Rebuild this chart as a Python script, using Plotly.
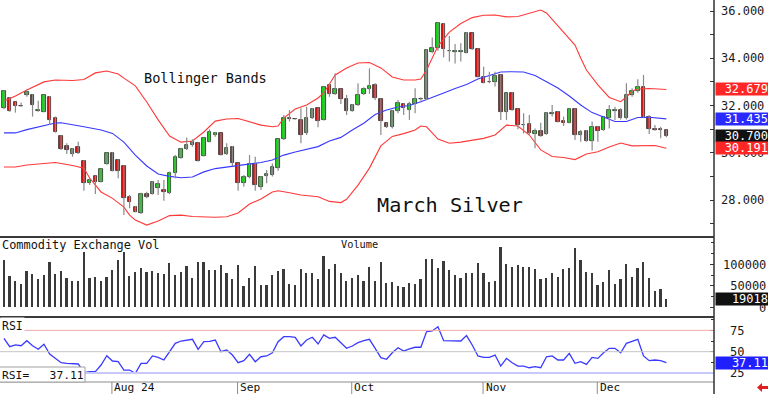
import plotly.graph_objects as go
import pandas as pd

# ---------------- data ----------------
holidays = ["2024-09-02", "2024-11-28"]
dates = [d for d in pd.bdate_range("2024-07-05", "2024-12-18") if d.strftime("%Y-%m-%d") not in holidays]

open_ = [31.88, 32.30, 32.13, 31.99, 32.44, 32.44, 31.77, 31.74, 32.37, 31.49,
         30.71, 30.30, 29.95, 30.26, 29.66, 28.73, 29.02, 28.78, 29.52, 30.00,
         29.69, 29.44, 28.11, 27.72, 27.44, 28.24, 28.25, 28.49, 28.42, 28.28,
         29.13, 29.78, 30.14, 30.33, 30.40, 29.87, 30.47, 30.75, 30.82, 29.95,
         30.26, 29.55, 28.73, 28.99, 29.52, 28.56, 29.03, 29.06, 29.37, 30.57,
         31.49, 31.44, 31.39, 30.82, 31.46, 31.88, 31.39, 32.87, 32.49, 32.68,
         32.26, 31.78, 32.02, 32.49, 32.68, 32.87, 32.28, 31.25, 31.08, 31.77,
         32.06, 31.81, 32.06, 32.29, 32.28, 34.28, 34.42, 35.45, 34.32, 34.26,
         34.26, 34.24, 35.05, 34.38, 33.22, 32.98, 33.01, 33.29, 31.74, 32.54,
         31.84, 31.16, 31.22, 30.79, 30.93, 30.79, 31.63, 31.74, 31.34, 31.27,
         31.84, 30.75, 30.93, 30.51, 31.10, 30.96, 31.46, 31.75, 31.81, 31.46,
         32.44, 32.61, 32.77, 31.53, 31.01, 31.01, 30.96]
high = [32.66, 32.35, 32.16, 32.13, 32.68, 32.47, 32.20, 32.47, 32.40, 31.53,
        30.74, 30.40, 30.19, 30.47, 29.69, 28.92, 29.04, 29.34, 30.01, 30.03,
        29.72, 29.47, 28.21, 27.75, 28.31, 28.35, 28.80, 28.85, 28.85, 29.20,
        29.90, 30.19, 30.65, 30.57, 30.43, 30.68, 30.99, 30.88, 30.85, 30.40,
        30.29, 29.58, 29.06, 29.90, 29.83, 29.02, 29.27, 29.55, 30.60, 31.60,
        31.81, 31.46, 31.88, 31.95, 31.88, 31.91, 32.83, 32.94, 33.36, 32.71,
        32.44, 32.06, 32.94, 32.77, 33.57, 32.94, 32.30, 31.27, 31.81, 32.23,
        32.09, 32.16, 32.73, 32.35, 34.38, 34.88, 35.53, 35.48, 34.94, 34.60,
        34.63, 35.11, 35.08, 34.41, 33.64, 33.43, 33.43, 33.32, 32.54, 32.57,
        31.87, 31.67, 31.60, 31.03, 31.27, 31.72, 32.02, 31.77, 31.53, 31.88,
        31.87, 30.96, 30.96, 31.32, 31.13, 31.53, 32.02, 31.95, 31.88, 32.94,
        32.73, 33.11, 33.29, 31.60, 31.17, 31.10, 30.98]
low = [31.84, 31.74, 31.70, 31.94, 32.37, 31.53, 31.74, 31.71, 31.17, 30.86,
       30.12, 29.95, 29.83, 29.95, 28.39, 28.63, 28.25, 28.75, 29.49, 29.21,
       28.92, 27.37, 27.65, 27.48, 27.41, 28.07, 28.23, 28.21, 27.97, 28.25,
       28.92, 29.75, 30.12, 30.26, 29.63, 29.84, 30.44, 30.68, 29.88, 29.91,
       29.44, 28.39, 28.56, 28.92, 28.39, 28.42, 28.71, 28.99, 29.24, 30.54,
       31.32, 31.40, 30.40, 30.75, 31.43, 31.08, 31.36, 32.37, 32.44, 32.06,
       31.60, 31.74, 31.98, 32.44, 32.49, 32.23, 30.75, 31.05, 31.03, 31.67,
       31.60, 31.39, 31.67, 32.20, 32.23, 34.21, 34.32, 34.04, 33.86, 33.78,
       33.86, 34.21, 34.35, 33.19, 32.94, 32.94, 32.80, 31.39, 31.39, 31.78,
       30.99, 30.82, 30.75, 30.19, 30.68, 30.76, 31.53, 31.29, 31.13, 31.25,
       30.54, 30.47, 30.47, 30.09, 30.47, 30.93, 31.03, 31.39, 31.41, 31.41,
       32.37, 32.54, 31.46, 30.79, 30.93, 30.61, 30.66]
close = [32.61, 31.78, 31.98, 31.96, 32.59, 32.02, 31.80, 32.44, 31.39, 30.89,
         30.14, 30.12, 30.14, 29.98, 28.73, 28.85, 28.78, 29.31, 29.98, 29.24,
         29.24, 28.07, 27.90, 27.51, 28.25, 28.14, 28.78, 28.66, 28.35, 29.13,
         29.83, 30.16, 30.33, 30.47, 29.66, 30.61, 30.89, 30.82, 29.91, 30.19,
         29.55, 28.73, 28.96, 29.52, 28.63, 28.99, 29.10, 29.38, 30.57, 31.46,
         31.43, 31.41, 30.75, 31.46, 31.85, 31.36, 32.77, 32.49, 32.68, 32.26,
         31.78, 32.02, 32.44, 32.68, 32.83, 32.33, 31.36, 31.08, 31.77, 32.12,
         31.88, 32.06, 32.26, 32.26, 34.35, 34.42, 35.51, 34.38, 34.29, 34.29,
         34.29, 35.08, 34.38, 33.22, 32.97, 33.01, 33.25, 31.74, 32.52, 31.81,
         31.17, 31.19, 30.82, 30.93, 30.71, 31.70, 31.70, 31.32, 31.27, 31.84,
         30.75, 30.89, 30.51, 31.08, 30.93, 31.50, 31.81, 31.80, 31.46, 32.44,
         32.61, 32.77, 31.50, 30.99, 30.98, 30.98, 30.70]

volume = [110000, 73700, 62000, 54300, 84500, 76700, 65100, 75200, 104700, 76700,
          84500, 67400, 61200, 61200, 129500, 69000, 71300, 62000, 69800, 86800,
          110000, 129500, 72900, 81400, 90700, 83000, 84500, 79100, 77500, 103900,
          75200, 81400, 96100, 67400, 106200, 104700, 86800, 86800, 98400, 80600,
          65100, 98400, 50400, 69000, 96000, 51900, 51900, 75200, 85300, 88400,
          54300, 51900, 89100, 80600, 79100, 65900, 120200, 89100, 100000, 79100,
          61200, 67400, 75200, 61200, 93000, 61200, 104700, 57400, 59700, 49600,
          48100, 55800, 53500, 65100, 111600, 111600, 92300, 107800, 86800, 75200,
          67400, 80600, 80600, 102300, 79100, 59700, 61200, 139500, 100000, 94600,
          98400, 94600, 93000, 89100, 65100, 67400, 79100, 71300, 88400, 92300,
          137200, 110000, 83000, 79100, 51900, 58100, 86800, 54300, 65900, 100800,
          71300, 90700, 104700, 67400, 37900, 41900, 19018]

rsi = [65.7, 55.9, 57.9, 57.0, 62.9, 57.0, 52.8, 58.7, 47.3, 42.2,
       37.1, 36.4, 36.4, 35.6, 25.4, 26.6, 26.6, 34.4, 45.3, 39.1,
       38.3, 28.5, 28.5, 24.7, 36.4, 36.4, 45.0, 43.4, 40.3, 50.0,
       59.8, 62.5, 63.7, 64.5, 52.8, 61.7, 62.1, 63.7, 50.0, 52.0,
       46.1, 37.1, 39.5, 46.9, 38.3, 44.1, 45.0, 48.8, 61.7, 67.6,
       67.6, 66.9, 56.7, 63.7, 66.9, 59.0, 69.6, 65.7, 66.9, 60.6,
       54.0, 56.7, 60.6, 62.9, 64.5, 54.0, 43.0, 41.1, 48.8, 54.7,
       50.8, 53.2, 55.2, 55.2, 73.4, 74.3, 79.3, 62.9, 62.9, 62.9,
       62.5, 68.8, 57.9, 45.0, 43.4, 43.4, 46.1, 33.2, 42.2, 37.1,
       33.2, 33.2, 31.2, 32.4, 31.2, 44.1, 45.0, 40.3, 40.3, 48.1,
       36.4, 38.3, 35.2, 43.4, 42.2, 48.8, 54.0, 54.0, 48.8, 59.8,
       61.7, 64.5, 45.0, 39.5, 40.3, 39.5, 37.11]

# Bollinger bands at sample bars
upper_idx = [0, 2, 4, 7, 9, 12, 14, 16, 18, 20, 21, 23, 25, 27, 29, 31, 33, 35, 37, 39,
             41, 43, 45, 47, 48, 49, 51, 53, 55, 56, 57, 58, 60, 62, 64, 66, 68, 70, 72, 73,
             74, 75, 76, 78, 80, 82, 84, 86, 88, 90, 92, 94, 95, 97, 99, 100, 101, 102, 104, 106,
             108, 109, 110, 111, 113, 116]
upper_val = [32.19, 32.40, 32.66, 33.00, 33.08, 33.06, 33.10, 33.38, 33.46, 33.33,
             33.16, 32.83, 32.15, 31.39, 30.71, 30.45, 30.50, 30.88, 31.34, 31.43,
             31.45, 31.30, 31.17, 31.10, 31.13, 31.47, 31.85, 32.02, 32.32, 32.53,
             32.91, 33.29, 33.59, 33.80, 33.82, 33.59, 33.21, 33.08, 33.08, 33.12,
             33.50, 34.01, 34.52, 35.11, 35.47, 35.72, 35.82, 35.83, 35.75, 35.77,
             35.89, 36.04, 35.92, 35.37, 34.86, 34.56, 34.01, 33.50, 32.87, 32.34,
             32.16, 32.36, 32.61, 32.70, 32.72, 32.679]
mid_idx = [0, 2, 4, 6, 8, 9, 10, 12, 14, 17, 19, 21, 23, 25, 27, 29, 31, 33, 35, 37,
           39, 41, 43, 45, 47, 49, 51, 53, 55, 57, 59, 61, 63, 65, 67, 69, 71, 73, 75, 77,
           79, 81, 83, 85, 87, 89, 91, 93, 95, 97, 99, 101, 103, 105, 107, 109, 111, 113, 116]
mid_val = [30.84, 30.84, 30.98, 31.10, 31.20, 31.26, 31.27, 31.17, 31.10, 30.96,
           30.82, 30.45, 29.90, 29.44, 29.10, 29.00, 28.94, 28.97, 29.19, 29.33,
           29.40, 29.44, 29.52, 29.59, 29.69, 29.90, 30.03, 30.16, 30.26, 30.50,
           30.65, 30.96, 31.25, 31.62, 31.81, 31.94, 32.00, 32.16, 32.36, 32.53,
           32.72, 32.89, 33.12, 33.27, 33.42, 33.43, 33.42, 33.27, 33.02, 32.74,
           32.40, 32.02, 31.70, 31.51, 31.32, 31.32, 31.49, 31.50, 31.435]
lower_idx = [0, 2, 4, 6, 9, 12, 14, 15, 17, 19, 21, 22, 23, 25, 27, 29, 31, 33, 35, 37,
             39, 41, 43, 45, 47, 48, 50, 52, 55, 57, 59, 60, 62, 64, 66, 68, 70, 72, 73, 74,
             76, 78, 80, 82, 84, 86, 87, 88, 90, 92, 94, 96, 98, 100, 102, 104, 106, 108, 110, 112,
             114, 116]
lower_val = [29.40, 29.40, 29.48, 29.52, 29.59, 29.46, 29.34, 28.93, 28.34, 28.07,
             27.70, 27.36, 27.15, 26.94, 27.11, 27.34, 27.36, 27.30, 27.27, 27.27,
             27.29, 27.45, 27.83, 28.04, 28.34, 28.39, 28.31, 28.21, 28.14, 27.94,
             27.89, 28.03, 28.63, 29.35, 30.29, 30.69, 30.81, 30.96, 31.13, 31.10,
             30.58, 30.40, 30.45, 30.54, 30.61, 30.75, 30.96, 31.17, 31.13, 30.75,
             30.12, 29.84, 29.80, 29.71, 29.95, 30.04, 30.24, 30.41, 30.29, 30.31,
             30.31, 30.191]

month_labels = ["Aug 24", "Sep", "Oct", "Nov", "Dec"]
month_nums = [8, 9, 10, 11, 12]
price_ticks = [28, 30, 32, 34, 36]
vol_ticks = [0, 50000, 100000]
rsi_ticks = [25, 50, 75]

# ---------------- geometry helpers ----------------
W, H = 768, 394
PLOT_R = 714
MONO = "DejaVu Sans Mono"
n = len(close)
idx = list(range(n))
month_idx = [next(i for i, d in enumerate(dates) if d.month == m) for m in month_nums]


def px(x):
    return x / PLOT_R


def py(y):
    return (H - y) / H


x_range = [-0.70, (PLOT_R - 4) / 5.71]

fig = go.Figure()

# Bollinger bands
fig.add_trace(go.Scatter(x=upper_idx, y=upper_val, mode="lines",
                         line=dict(color="#ff3838", width=1.1), xaxis="x", yaxis="y"))
fig.add_trace(go.Scatter(x=lower_idx, y=lower_val, mode="lines",
                         line=dict(color="#ff3838", width=1.1), xaxis="x", yaxis="y"))
fig.add_trace(go.Scatter(x=mid_idx, y=mid_val, mode="lines",
                         line=dict(color="#3838ff", width=1.1), xaxis="x", yaxis="y"))

# wicks
wx, wy = [], []
for i in idx:
    wx += [i, i, None]
    wy += [low[i], high[i], None]
fig.add_trace(go.Scatter(x=wx, y=wy, mode="lines", line=dict(color="#8a8a8a", width=1.2),
                         xaxis="x", yaxis="y"))

# bodies
body_base = [min(o, c) for o, c in zip(open_, close)]
body_h = [max(abs(c - o), 0.02) for o, c in zip(open_, close)]
body_col = ["#10e010" if c >= o else "#e01010" for o, c in zip(open_, close)]
fig.add_trace(go.Bar(x=idx, y=body_h, base=body_base, width=0.62,
                     marker=dict(color=body_col, line=dict(color="#2a2a2a", width=0.8)),
                     xaxis="x", yaxis="y"))

# volume
fig.add_trace(go.Bar(x=idx, y=volume, width=0.3, marker=dict(color="#3a3a3a", line=dict(width=0)),
                     xaxis="x2", yaxis="y2"))

# RSI
fig.add_trace(go.Scatter(x=idx, y=rsi, mode="lines", line=dict(color="#3a3aff", width=1.3),
                         xaxis="x3", yaxis="y3"))

price_dom = [py(237), 1]
vol_dom = [py(317), py(237)]
rsi_dom = [py(382), py(317)]

p_top = 36 + 11 / 23.625
p_bot = 36 - 226 / 23.625
v_scale = 2325.6
v_top = (307.3 - 237) * v_scale
v_bot = -(317 - 307.3) * v_scale
r_scale = 21.35 / 25
r_top = 50 + (351.7 - 317) / r_scale
r_bot = 50 - (382 - 351.7) / r_scale

tickfont = dict(family=MONO, size=12, color="#1a1a1a")
nb = "\u00a0"

shapes = []
# RSI reference lines
shapes.append(dict(type="line", xref="paper", yref="y3", x0=px(22), x1=1, y0=75, y1=75,
                   line=dict(color="#f3a8a8", width=1)))
shapes.append(dict(type="line", xref="paper", yref="y3", x0=0, x1=1, y0=50, y1=50,
                   line=dict(color="#c4c4c4", width=1)))
shapes.append(dict(type="line", xref="paper", yref="y3", x0=0, x1=1, y0=25, y1=25,
                   line=dict(color="#c8c8fa", width=2)))
# panel separators
for yy, col, wd in [(237, "#3a3a3a", 2), (317, "#3a3a3a", 2), (382, "#8c8c8c", 1)]:
    shapes.append(dict(type="line", xref="paper", yref="paper", x0=0, x1=1, y0=py(yy), y1=py(yy),
                       line=dict(color=col, width=wd)))
# right axis line
shapes.append(dict(type="line", xref="paper", yref="paper", x0=1, x1=1, y0=0, y1=1,
                   line=dict(color="#303030", width=1.5)))
# month ticks
for mi in month_idx:
    shapes.append(dict(type="line", xref="x3", yref="paper", x0=mi - 0.1, x1=mi - 0.1,
                       y0=0, y1=py(382), line=dict(color="#8c8c8c", width=1)))
# RSI value box
shapes.append(dict(type="rect", xref="paper", yref="paper", x0=px(-2), x1=px(85),
                   y0=py(382), y1=py(367), fillcolor="white", line=dict(color="#a0a0a0", width=1)))
# red arrow bottom right
pts = [(757, 387.5), (762, 383), (762, 386), (768, 386), (768, 389), (762, 389), (762, 392)]
path = "M " + " L ".join(f"{px(a):.5f},{py(b):.5f}" for a, b in pts) + " Z"
shapes.append(dict(type="path", xref="paper", yref="paper", path=path,
                   fillcolor="#e02020", line=dict(color="#e02020", width=0)))

annotations = []


def text_ann(x, y, text, size, color="#111111", **kw):
    d = dict(xref="paper", yref="paper", x=px(x), y=py(y), text=text, showarrow=False,
             xanchor="left", yanchor="middle", font=dict(family=MONO, size=size, color=color))
    d.update(kw)
    annotations.append(d)


text_ann(142, 77.5, "Bollinger Bands", 13.6)
text_ann(375, 204.5, "March Silver", 20.2)
text_ann(0, 245, "Commodity Exchange Vol", 11.9)
text_ann(339, 244, "Volume", 10.3)
text_ann(0, 325.5, "RSI", 11.5, bgcolor="white")
text_ann(0, 375, "RSI=" + nb * 3 + f"{rsi[-1]:.2f}", 11.3)
for lab, mi in zip(month_labels, month_idx):
    annotations.append(dict(xref="x3", yref="paper", x=mi, y=py(387.5), text=lab.replace(" ", nb),
                            showarrow=False, xanchor="left", yanchor="middle", xshift=1,
                            borderpad=0, height=11,
                            font=dict(family=MONO, size=11.2, color="#111111")))


def value_box(yref, yval, text, bg):
    annotations.append(dict(xref="paper", yref=yref, x=1, y=yval, text=text, showarrow=False,
                            xanchor="left", yanchor="middle", xshift=0.5, width=51, height=10,
                            align="right", bgcolor=bg, borderpad=1,
                            font=dict(family=MONO, size=12, color="white")))


value_box("y", upper_val[-1], f"{upper_val[-1]:.3f}", "#ff2626")
value_box("y", mid_val[-1], f"{mid_val[-1]:.3f}", "#2a2aff")
value_box("y", close[-1], f"{close[-1]:.3f}", "#111111")
value_box("y", lower_val[-1], f"{lower_val[-1]:.3f}", "#ff2626")
value_box("y2", volume[-1], f"{volume[-1]}", "#111111")
value_box("y3", rsi[-1], f"{rsi[-1]:.2f}", "#2020ff")

vol_text = [nb * (6 - len(str(v))) + str(v) for v in vol_ticks]

fig.update_layout(
    width=W, height=H,
    margin=dict(l=0, r=W - PLOT_R, t=0, b=0),
    paper_bgcolor="white", plot_bgcolor="white",
    showlegend=False, barmode="overlay", bargap=0,
    xaxis=dict(domain=[0, 1], range=x_range, visible=False, anchor="y"),
    xaxis2=dict(domain=[0, 1], range=x_range, visible=False, anchor="y2", matches="x"),
    xaxis3=dict(domain=[0, 1], range=x_range, visible=False, anchor="y3", matches="x"),
    yaxis=dict(domain=price_dom, range=[p_bot, p_top], side="right", anchor="x",
               tickvals=price_ticks, tickformat=".3f", ticks="inside", ticklen=4,
               tickcolor="#303030", showgrid=False, zeroline=False, tickfont=tickfont,
               ticklabelstandoff=6,
               minor=dict(dtick=1, ticks="inside", ticklen=4, tickcolor="#303030", showgrid=False)),
    yaxis2=dict(domain=vol_dom, range=[v_bot, v_top], side="right", anchor="x2",
                tickvals=vol_ticks, ticktext=vol_text, ticks="inside", ticklen=4,
                tickcolor="#303030", showgrid=False, zeroline=False, tickfont=tickfont,
                ticklabelstandoff=8,
                minor=dict(dtick=25000, ticks="inside", ticklen=3, tickcolor="#303030", showgrid=False)),
    yaxis3=dict(domain=rsi_dom, range=[r_bot, r_top], side="right", anchor="x3",
                tickvals=rsi_ticks, ticks="inside", ticklen=4,
                tickcolor="#303030", showgrid=False, zeroline=False, tickfont=tickfont,
                ticklabelstandoff=15,
                minor=dict(dtick=12.5, ticks="inside", ticklen=3, tickcolor="#303030", showgrid=False)),
    shapes=shapes,
    annotations=annotations,
)

fig.write_html("out.html", config={"displayModeBar": False},
               post_script="document.body.style.margin='0';")
